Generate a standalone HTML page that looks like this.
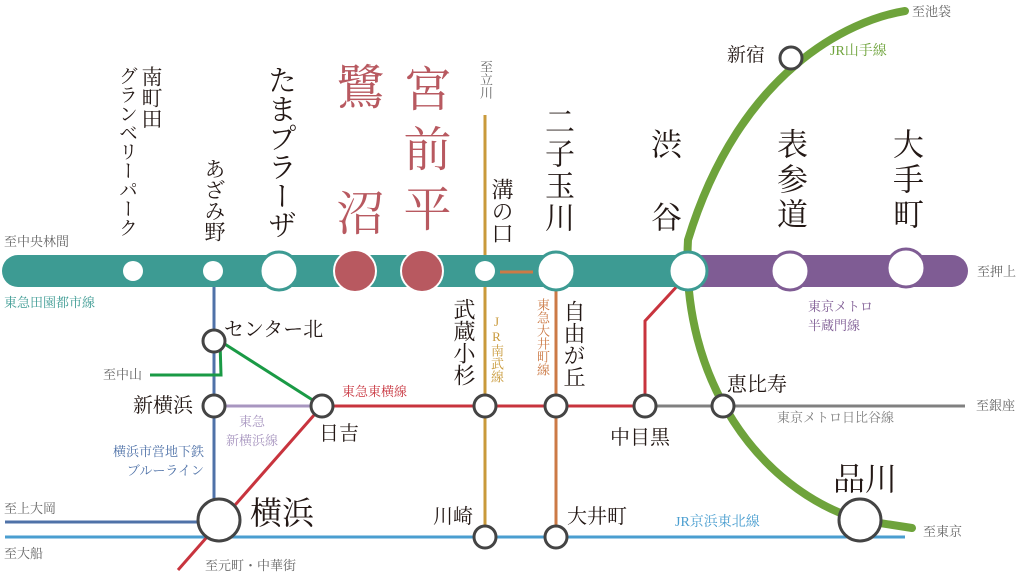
<!DOCTYPE html>
<html><head><meta charset="utf-8"><style>
html,body{margin:0;padding:0;background:#fff;}
#w{position:relative;width:1024px;height:585px;overflow:hidden;font-family:"Liberation Serif","Noto Serif CJK SC","Noto Sans CJK JP",serif;}
svg{position:absolute;left:0;top:0;}
.v{position:absolute;writing-mode:vertical-rl;text-orientation:upright;white-space:nowrap;line-height:1;color:#231815;}
.h{position:absolute;white-space:nowrap;line-height:1;color:#231815;}
.s{font-size:13px;color:#666;}
</style></head><body><div id="w">
<svg width="1024" height="585" viewBox="0 0 1024 585">
<line x1="214" y1="270" x2="214" y2="520" stroke="#4f72a8" stroke-width="3"/>
<line x1="5" y1="522" x2="214" y2="522" stroke="#4f72a8" stroke-width="3"/>
<line x1="5" y1="537" x2="905" y2="537" stroke="#4a9ed0" stroke-width="3"/>
<line x1="485" y1="115" x2="485" y2="537" stroke="#c99a3b" stroke-width="3"/>
<line x1="556" y1="270" x2="556" y2="537" stroke="#cc7a46" stroke-width="3"/>
<polyline points="220,341 322,406" fill="none" stroke="#1a9a45" stroke-width="3"/>
<polyline points="220,341 221,375 150,375" fill="none" stroke="#1a9a45" stroke-width="3"/>
<line x1="214" y1="406" x2="322" y2="406" stroke="#a896c0" stroke-width="3"/>
<polyline points="178,570 322,406 645,406 645,321 680,283" fill="none" stroke="#c8343e" stroke-width="3"/>
<line x1="645" y1="406" x2="965" y2="406" stroke="#808080" stroke-width="3"/>
<path d="M18,255 H690 V287 H18 A16,16 0 0 1 18,255 Z" fill="#3d9b93"/>
<path d="M690,255 H952 A16,16 0 0 1 952,287 H690 Z" fill="#7f5c94"/>
<line x1="500" y1="272" x2="533" y2="272" stroke="#cc7a46" stroke-width="3"/>
<path d="M905,11 C850,20 740,70 688,240 C680,380 760,490 860,520 L912,528" fill="none" stroke="#6ea33b" stroke-width="8" stroke-linecap="round"/>
<circle cx="133" cy="271" r="10" fill="#fff"/>
<circle cx="213" cy="271" r="10" fill="#fff"/>
<circle cx="279" cy="271" r="19" fill="#fff" stroke="#3d9b93" stroke-width="3"/>
<circle cx="355" cy="271" r="21" fill="#b85960" stroke="#fff" stroke-width="2"/>
<circle cx="422" cy="271" r="21" fill="#b85960" stroke="#fff" stroke-width="2"/>
<circle cx="485" cy="271" r="10" fill="#fff"/>
<circle cx="556" cy="271" r="19" fill="#fff" stroke="#3d9b93" stroke-width="3"/>
<circle cx="688" cy="271" r="19" fill="#fff" stroke="#3d9b93" stroke-width="3"/>
<circle cx="790" cy="271" r="19" fill="#fff" stroke="#7f5c94" stroke-width="3"/>
<circle cx="906" cy="268" r="19" fill="#fff" stroke="#7f5c94" stroke-width="3"/>
<g fill="#fff" stroke="#444" stroke-width="3">
<circle cx="791" cy="58" r="11"/>
<circle cx="214" cy="341" r="11"/>
<circle cx="214" cy="406" r="11"/>
<circle cx="322" cy="406" r="11"/>
<circle cx="485" cy="406" r="11"/>
<circle cx="556" cy="406" r="11"/>
<circle cx="645" cy="406" r="11"/>
<circle cx="723" cy="406" r="11"/>
<circle cx="219" cy="520" r="21"/>
<circle cx="485" cy="537" r="11"/>
<circle cx="556" cy="537" r="11"/>
<circle cx="860" cy="520" r="21"/>
</g>
</svg>
<div class="v" style="left:140px;top:66px;font-size:21px;">南町田</div>
<div class="v" style="left:117px;top:66px;font-size:19px;">グランベリーパーク</div>
<div class="v" style="left:203px;top:158px;font-size:21px;">あざみ野</div>
<div class="v" style="left:265px;top:65px;font-size:29px;">たまプラーザ</div>
<div class="v" style="left:331px;top:62px;font-size:48px;color:#b85960;">鷺</div>
<div class="v" style="left:331px;top:188px;font-size:48px;color:#b85960;">沼</div>
<div class="v" style="left:398px;top:64px;font-size:48px;color:#b85960;letter-spacing:12px;">宮前平</div>
<div class="v s" style="left:479px;top:60px;">至立川</div>
<div class="v" style="left:490px;top:178px;font-size:22px;">溝の口</div>
<div class="v" style="left:541px;top:106px;font-size:30px;letter-spacing:2px;">二子玉川</div>
<div class="v" style="left:648px;top:128px;font-size:31px;">渋</div>
<div class="v" style="left:648px;top:201px;font-size:31px;">谷</div>
<div class="v" style="left:774px;top:128px;font-size:31px;letter-spacing:4px;">表参道</div>
<div class="v" style="left:890px;top:128px;font-size:31px;letter-spacing:4px;">大手町</div>
<div class="v" style="left:452px;top:298px;font-size:22px;">武蔵小杉</div>
<div class="v" style="left:490px;top:314px;font-size:13px;color:#c99a3b;">JR南武線</div>
<div class="v" style="left:536px;top:298px;font-size:13px;color:#cc7a46;">東急大井町線</div>
<div class="v" style="left:562px;top:300px;font-size:22px;">自由が丘</div>
<div class="h s" style="left:4px;top:235px;">至中央林間</div>
<div class="h" style="left:4px;top:296px;font-size:13px;color:#3d9b93;">東急田園都市線</div>
<div class="h" style="left:224px;top:320px;font-size:20px;">センター北</div>
<div class="h s" style="left:103px;top:368px;">至中山</div>
<div class="h" style="left:133px;top:396px;font-size:20px;">新横浜</div>
<div class="h" style="left:222px;top:412px;font-size:13px;color:#a896c0;text-align:center;line-height:19px;width:60px;">東急<br>新横浜線</div>
<div class="h" style="left:319px;top:424px;font-size:20px;">日吉</div>
<div class="h" style="left:342px;top:385px;font-size:13px;color:#c8343e;">東急東横線</div>
<div class="h" style="left:90px;top:442px;font-size:13px;color:#4f72a8;text-align:right;width:114px;line-height:19px;">横浜市営地下鉄<br>ブルーライン</div>
<div class="h" style="left:250px;top:497px;font-size:32px;">横浜</div>
<div class="h s" style="left:205px;top:559px;">至元町・中華街</div>
<div class="h s" style="left:4px;top:502px;">至上大岡</div>
<div class="h s" style="left:4px;top:547px;">至大船</div>
<div class="h" style="left:433px;top:507px;font-size:20px;">川崎</div>
<div class="h" style="left:567px;top:507px;font-size:20px;">大井町</div>
<div class="h" style="left:675px;top:516px;font-size:14px;color:#4a9ed0;">JR京浜東北線</div>
<div class="h s" style="left:923px;top:525px;">至東京</div>
<div class="h" style="left:610px;top:428px;font-size:20px;">中目黒</div>
<div class="h" style="left:727px;top:375px;font-size:20px;">恵比寿</div>
<div class="h" style="left:777px;top:411px;font-size:13px;color:#808080;">東京メトロ日比谷線</div>
<div class="h s" style="left:976px;top:399px;">至銀座</div>
<div class="h" style="left:808px;top:297px;font-size:13px;color:#7f5c94;line-height:19px;">東京メトロ<br>半蔵門線</div>
<div class="h s" style="left:977px;top:265px;">至押上</div>
<div class="h" style="left:833px;top:463px;font-size:32px;">品川</div>
<div class="h" style="left:727px;top:46px;font-size:19px;">新宿</div>
<div class="h" style="left:830px;top:45px;font-size:14px;color:#6ea33b;">JR山手線</div>
<div class="h s" style="left:912px;top:5px;">至池袋</div>
</div></body></html>
